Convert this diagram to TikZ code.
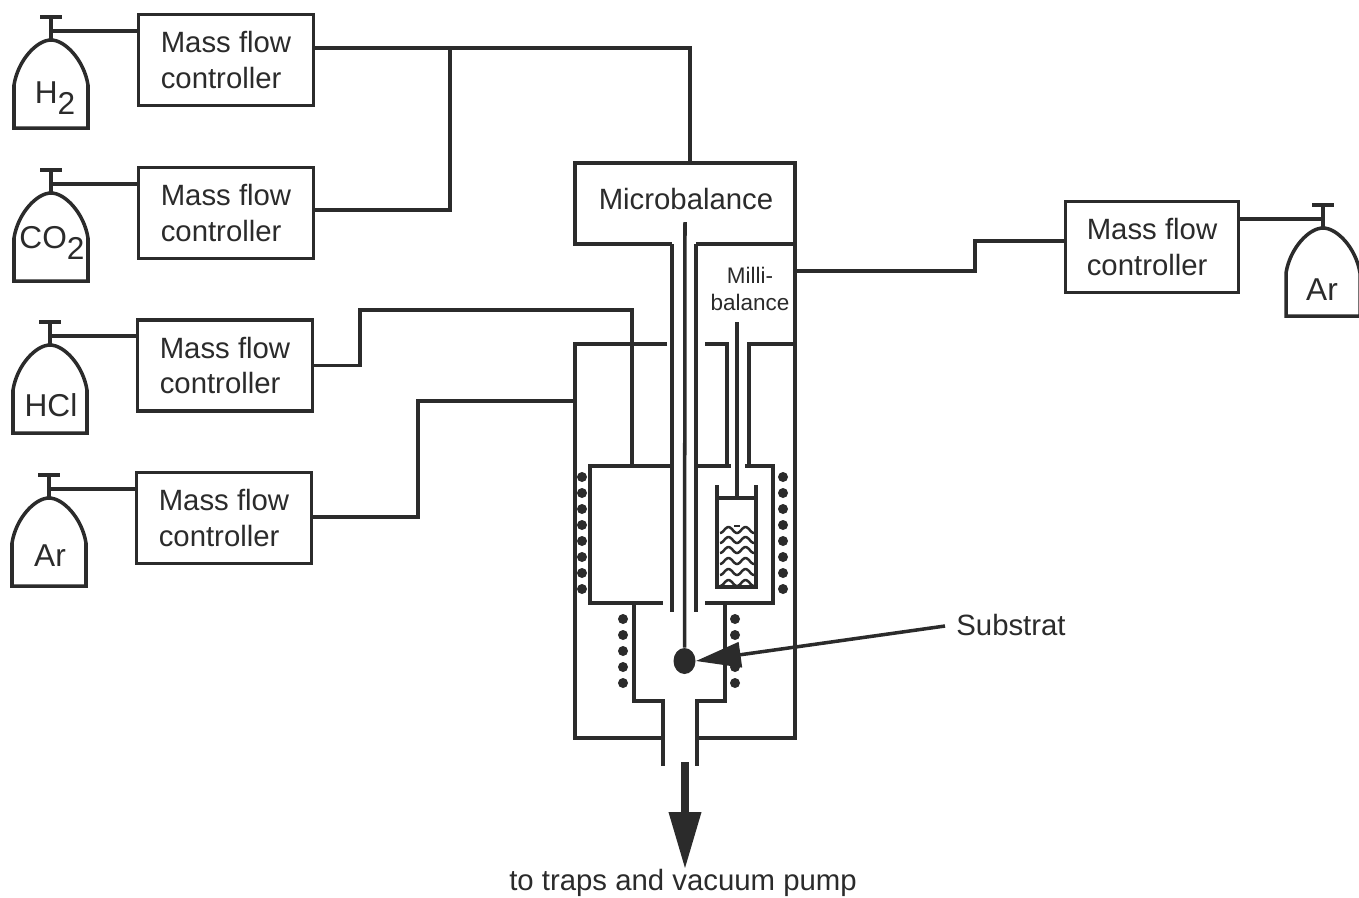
\documentclass[tikz,border=0pt]{standalone}
\usepackage{fontspec}
\usepackage{xcolor}
\usepackage{tikz}
\usetikzlibrary{arrows.meta,shapes.geometric}
\setmainfont{Liberation Sans}
\definecolor{inkdark}{gray}{0.17}
\newcommand{\lowtwo}{\raisebox{-.36em}{2}}
\tikzset{
  pipe/.style={line width=2pt, draw=inkdark, line cap=butt, line join=miter},
  thinpipe/.style={line width=1.8pt, draw=inkdark, line cap=butt, line join=miter},
  mfcbox/.style={draw=inkdark, line width=2pt, fill=white, minimum width=3.5cm, minimum height=1.82cm, align=left, inner sep=0pt, font=\fontsize{16.7}{20.4}\selectfont, text=inkdark},
  gaslabel/.style={inner sep=0pt, font=\fontsize{16.7}{20}\selectfont, text=inkdark},
  bottlelabel/.style={inner sep=0pt, font=\fontsize{18}{20}\selectfont, text=inkdark},
  smalllabel/.style={inner sep=0pt, align=center, font=\fontsize{12.8}{15.5}\selectfont, text=inkdark},
  wave/.style={line width=1.4pt, draw=inkdark},
  coildot/.style={fill=inkdark},
  bottle/.pic={
    \draw[pipe] (-37,88) -- (-37,45) .. controls (-33,20) and (-14,0) .. (0,0)
      .. controls (14,0) and (33,20) .. (37,45) -- (37,88) -- cycle;
    \draw[pipe] (0,0) -- (0,-23);
    \draw[pipe] (-11,-23) -- (11,-23);
    \coordinate (-valve) at (0,-9);
  },
}
\begin{document}
\begin{tikzpicture}[x=0.02cm,y=-0.02cm]
\useasboundingbox[fill=white] (0,0) rectangle (1359,897);
% gas bottles
\pic (hyd) at (51,40) {bottle};
\pic (cdo) at (51,193) {bottle};
\pic (hcl) at (50,345) {bottle};
\pic (arl) at (49,498) {bottle};
\pic (arr) at (1323,228) {bottle};
\node[bottlelabel] (hydlabel) at (55,98) {H\lowtwo};
\node[bottlelabel] (cdolabel) at (52,243) {CO\lowtwo};
\node[bottlelabel] (hcllabel) at (51,405) {HCl};
\node[bottlelabel] (arllabel) at (50,556) {Ar};
\node[bottlelabel] (arrlabel) at (1322,290) {Ar};
% flow controllers
\node[mfcbox] (mfca) at (226,60) {Mass flow\\controller};
\node[mfcbox] (mfcb) at (226,213) {Mass flow\\controller};
\node[mfcbox] (mfcc) at (225,365.5) {Mass flow\\controller};
\node[mfcbox] (mfcd) at (224,518) {Mass flow\\controller};
\node[mfcbox, minimum width=3.46cm] (mfce) at (1152,247) {Mass flow\\controller};
\draw[pipe] (hyd-valve) -- (hyd-valve -| mfca.west);
\draw[thinpipe] (cdo-valve) -- (cdo-valve -| mfcb.west);
\draw[pipe] (hcl-valve) -- (hcl-valve -| mfcc.west);
\draw[thinpipe] (arl-valve) -- (arl-valve -| mfcd.west);
\draw[pipe] (arr-valve) -- (arr-valve -| mfce.east);
% reactor walls
\coordinate (mbtop) at (690,163);
\coordinate (jcta) at (450,48);
\coordinate (reactwall) at (575,401);
\coordinate (millwall) at (795,271);
\coordinate (inlet) at (632,466);
\draw[pipe] (672,244) -- (575,244) -- (575,163) -- (795,163) -- (795,738) -- (697,738);
\draw[pipe] (696,244) -- (795,244);
\node[gaslabel] (microlabel) at (686,199) {Microbalance};
\node[smalllabel] (millilabel) at (750,289) {Milli-\\balance};
\draw[pipe] (667,344) -- (575,344) -- (575,738) -- (663,738);
\draw[pipe] (705,344) -- (727,344) -- (727,466);
\draw[pipe] (795,344) -- (749,344) -- (749,466);
\draw[pipe] (672,244) -- (672,612);
\draw[pipe] (696,244) -- (696,612);
% furnace
\draw[pipe] (672,466) -- (590,466) -- (590,603) -- (663,603);
\draw[pipe] (696,466) -- (731,466);
\draw[pipe] (745,466) -- (773,466) -- (773,603) -- (705,603);
\draw[pipe] (634,603) -- (634,701) -- (663,701) -- (663,766);
\draw[pipe] (725,603) -- (725,701) -- (697,701) -- (697,766);
% crucible
\draw[pipe] (717,485) -- (717,587) -- (756,587) -- (756,485);
\draw[pipe] (717,498) -- (756,498);
\draw[pipe] (737,322) -- (737,498);
\foreach \wy in {530,540,550,561,572,583}
  \draw[wave] plot[domain=0:34,samples=31] ({720+\x},{\wy+3*cos(\x*360/17)});
\draw[wave] (734,526) -- (740,526);
% coils
\foreach \cy in {477,493,509,525,541,557,573,589} {
  \fill[coildot] (582,\cy) circle (5);
  \fill[coildot] (783,\cy) circle (5);
}
\foreach \cy in {619,635,651,667,683} {
  \fill[coildot] (623,\cy) circle (5);
  \fill[coildot] (735,\cy) circle (5);
}
% connectors
\draw[pipe] (mfca.east |- jcta) -- (mbtop |- jcta) -- (mbtop);
\draw[pipe] (jcta) -- (450,210) -- (mfcb.east |- 450,210);
\draw[thinpipe] (mfcc.east) -- (360,365.5) -- (360,310) -- (632,310) -- (inlet);
\draw[pipe] (mfcd.east |- 418,517) -- (418,517) -- (418,401) -- (reactwall);
\draw[pipe] (mfce.west |- 975,241) -- (975,241) -- (975,271) -- (millwall);
% substrate
\coordinate (rodtop) at (685,222);
\node[ellipse, fill=inkdark, inner sep=0pt, minimum width=0.44cm, minimum height=0.52cm] (ball) at (684.5,661) {};
\draw[pipe] (rodtop) -- (ball);
\node[gaslabel] (sublabel) at (1011,625) {Substrat};
\coordinate (subend) at (945,626);
\draw[pipe, -{Triangle[length=0.9cm,width=0.5cm]}] (subend) -- (ball.east);
% exhaust
\coordinate (pumptop) at (685,762);
\node[gaslabel] (pumplabel) at (683,883) {to traps and vacuum pump};
\draw[line width=4pt, draw=inkdark, -{Triangle[length=1.14cm,width=0.62cm]}] (pumptop) -- (pumptop |- pumplabel.north);
\end{tikzpicture}
\end{document}
